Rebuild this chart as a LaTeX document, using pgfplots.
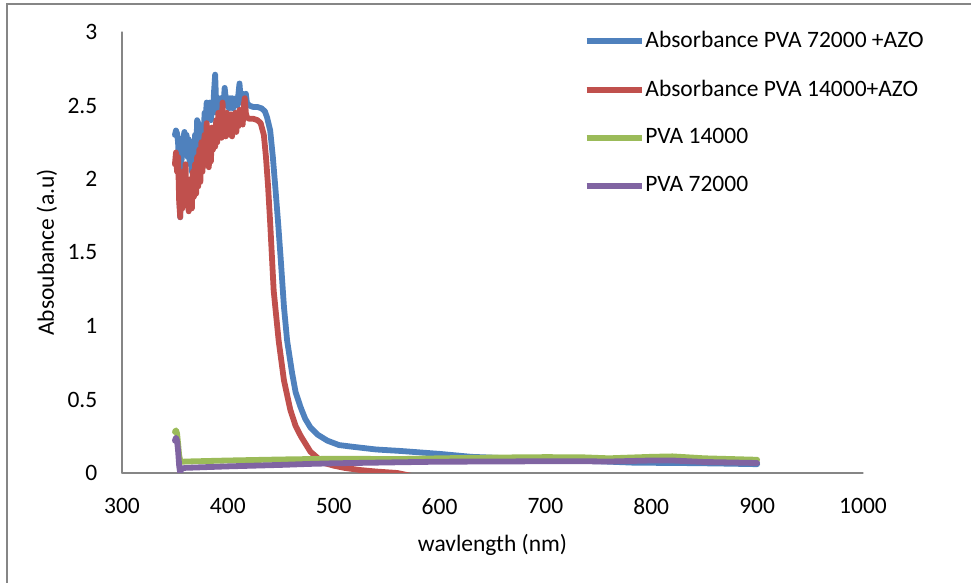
\documentclass[border=0pt]{standalone}
\usepackage{fontspec}
\setmainfont{Carlito}
\usepackage{pgfplots}
\pgfplotsset{compat=1.18}
\definecolor{sblue}{HTML}{4F81BD}
\definecolor{sred}{HTML}{C0504D}
\definecolor{sgreen}{HTML}{9BBB59}
\definecolor{spurple}{HTML}{8064A2}
\definecolor{axgray}{HTML}{868686}

\begin{document}
\fontsize{11.75}{14}\selectfont
\begin{tikzpicture}
\path[use as bounding box] (-61pt,-55pt) rectangle (424.5pt,236.5pt);
\draw[axgray, line width=0.6pt] (-57.5pt,-60pt) -- (-57.5pt,234.5pt) -- (440pt,234.5pt);
\begin{axis}[
  at={(0,0)}, anchor=south west,
  scale only axis,
  width=370.5pt, height=220.5pt,
  xmin=300, xmax=1000, ymin=0, ymax=3,
  xtick={300,400,...,1000},
  ytick={0,0.5,...,3},
  axis x line=bottom, axis y line=left,
  axis line style={-, axgray, line width=0.6pt},
  major tick length=0pt,
  /pgf/number format/assume math mode=true,
  /pgf/number format/1000 sep={},
  tick label style={font=\fontsize{11.75}{14}\selectfont},
  xticklabel style={yshift=-7.5pt},
  yticklabel style={xshift=-7pt},
  xlabel={wavlength (nm)},
  ylabel={Absoubance (a.u)},
  label style={font=\fontsize{11.75}{14}\selectfont},
  xlabel style={at={(axis description cs:0.5,-0.1633)}, anchor=center},
  ylabel style={at={(axis description cs:-0.1012,0.5)}, anchor=center},
  line width=2.9pt, line join=round, line cap=round,
  legend cell align=left,
  legend style={at={(0.611,1.027)}, anchor=north west, draw=none, fill=none,
    font=\fontsize{11.75}{14}\selectfont, row sep=10.5pt,
    nodes={inner xsep=0.5pt, inner ysep=2pt}},
  legend image code/.code={\draw[#1] (0pt,0pt) -- (27.5pt,0pt);},
]
\addplot[sblue] coordinates {
(350,2.30) (351,2.33) (352,2.31) (353,2.25) (354,1.95) (355,1.74) (356,2.10)
(357,2.20) (358,2.28) (359,2.32) (360,2.22) (361,2.30) (362,2.15) (363,2.27)
(364,2.10) (365,2.20) (366,2.05) (367,2.22) (368,2.10) (369,2.30) (370,2.15)
(371,2.40) (372,2.38) (373,2.20) (374,2.30) (375,2.22) (376,2.35) (377,2.25)
(378,2.45) (379,2.40) (380,2.52) (381,2.50) (382,2.45) (383,2.52) (384,2.40)
(385,2.50) (386,2.45) (387,2.60) (388,2.71) (389,2.50) (390,2.45) (391,2.52)
(392,2.48) (393,2.55) (394,2.50) (395,2.55) (396,2.52) (397,2.62) (398,2.55)
(399,2.50) (400,2.55) (401,2.48) (402,2.55) (403,2.50) (404,2.55) (405,2.48)
(406,2.53) (407,2.50) (408,2.55) (409,2.50) (410,2.58) (411,2.65) (412,2.55)
(413,2.52) (414,2.58) (415,2.52) (416,2.55) (417,2.58) (418,2.52) (420,2.50)
(424,2.49) (428,2.49) (432,2.48) (435,2.46) (437,2.42) (440,2.33) (442.5,2.15)
(445,1.93) (447.5,1.70) (450,1.45) (453,1.13) (456,0.90) (460.7,0.68) (464,0.55)
(468.6,0.45) (473,0.37) (478,0.31) (485,0.26) (494,0.22) (505,0.19) (516,0.18)
(540,0.16) (563,0.15) (600,0.13) (630,0.11) (700,0.09) (750,0.08) (784,0.07)
(826,0.068) (860,0.065) (900,0.06)
};
\addplot[sred] coordinates {
(350,2.10) (351,2.18) (352,2.05) (353,2.15) (354,1.85) (355,1.74) (356,2.00)
(357,1.80) (358,2.05) (359,1.85) (360,2.10) (361,1.82) (362,1.95) (363,1.78)
(364,1.90) (365,2.00) (366,1.80) (367,2.05) (368,1.88) (369,2.10) (370,1.90)
(371,2.15) (372,1.95) (373,2.20) (374,1.98) (375,2.25) (376,2.05) (377,2.18)
(378,2.30) (379,2.10) (380,2.38) (381,2.15) (382,2.08) (383,2.30) (384,2.12)
(385,2.35) (386,2.20) (387,2.30) (388,2.22) (389,2.40) (390,2.25) (391,2.45)
(392,2.30) (393,2.38) (394,2.28) (395,2.52) (396,2.30) (397,2.42) (398,2.29)
(399,2.45) (400,2.32) (401,2.40) (402,2.30) (403,2.44) (404,2.29) (405,2.42)
(406,2.33) (407,2.45) (408,2.32) (409,2.43) (410,2.36) (411,2.47) (412,2.38)
(413,2.45) (414,2.37) (415,2.50) (416,2.55) (417,2.45) (418,2.42) (420,2.41)
(424,2.41) (428,2.40) (431,2.38) (434,2.30) (436,2.15) (438,1.95) (440,1.70)
(443.3,1.24) (448,0.90) (453,0.63) (459,0.43) (464,0.32) (469,0.25) (478,0.145)
(490,0.07) (500,0.05) (510,0.035) (525,0.02) (540,0.01) (560,0.0) (580,-0.03)
(700,-0.03) (800,-0.03) (900,-0.03)
};
\addplot[sgreen] coordinates {
(350,0.28) (351,0.29) (352,0.27) (353,0.20) (354,0.12) (355,0.085) (356,0.076)
(360,0.078) (400,0.085) (450,0.092) (478,0.095) (500,0.097) (563,0.095)
(600,0.10) (650,0.105) (700,0.108) (734,0.107) (760,0.10) (800,0.11)
(820,0.113) (850,0.10) (900,0.09)
};
\addplot[spurple] coordinates {
(350,0.22) (351,0.24) (352,0.22) (353,0.15) (354,0.05) (355,0.0) (356,0.03)
(360,0.035) (400,0.045) (450,0.055) (478,0.062) (500,0.066) (563,0.073)
(600,0.077) (650,0.078) (700,0.08) (734,0.08) (760,0.078) (800,0.085)
(820,0.085) (850,0.075) (900,0.068)
};
\legend{Absorbance PVA 72000 +AZO, Absorbance PVA 14000+AZO, PVA 14000, PVA 72000}
\end{axis}
\end{tikzpicture}
\end{document}
